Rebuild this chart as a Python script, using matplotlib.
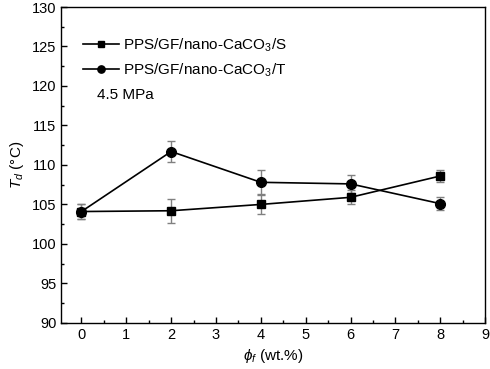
import numpy as np
import matplotlib
matplotlib.use('Agg')
from matplotlib import pyplot as plt
from matplotlib.ticker import MultipleLocator

plt.rcParams['font.family'] = ['Liberation Sans', 'DejaVu Sans']
plt.rcParams['mathtext.fontset'] = 'custom'
plt.rcParams['mathtext.it'] = 'Liberation Sans:italic'
plt.rcParams['mathtext.rm'] = 'Liberation Sans'

phi = [0, 2, 4, 6, 8]
td_s = [104.1, 104.2, 105.0, 105.9, 108.6]
err_s = [1.0, 1.5, 1.2, 0.9, 0.8]
td_t = [104.1, 111.7, 107.8, 107.6, 105.1]
err_t = [1.0, 1.3, 1.5, 1.1, 0.85]

fig, ax = plt.subplots(figsize=(4.9, 3.69), dpi=100)
fig.subplots_adjust(left=0.125, right=0.99, top=0.981, bottom=0.125)

ax.errorbar(phi, td_s, yerr=err_s, fmt='none', ecolor='#808080', elinewidth=1, capsize=3, capthick=1)
ax.errorbar(phi, td_t, yerr=err_t, fmt='none', ecolor='#808080', elinewidth=1, capsize=3, capthick=1)
ax.plot(phi, td_s, color='black', marker='s', markersize=6, linewidth=1.2,
        label='PPS/GF/nano-CaCO$_3$/S')
ax.plot(phi, td_t, color='black', marker='o', markersize=7, linewidth=1.2,
        label='PPS/GF/nano-CaCO$_3$/T')

ax.set_xlim(-0.45, 9)
ax.set_ylim(90, 130)
ax.xaxis.set_major_locator(MultipleLocator(1))
ax.xaxis.set_minor_locator(MultipleLocator(0.5))
ax.yaxis.set_major_locator(MultipleLocator(5))
ax.yaxis.set_minor_locator(MultipleLocator(2.5))
ax.tick_params(which='both', direction='in', labelsize=10.5, width=1)
ax.tick_params(which='major', length=4)
ax.tick_params(which='minor', length=2)
for s in ax.spines.values():
    s.set_linewidth(1.0)

ax.set_xlabel(r'$\phi_f$ (wt.%)', fontsize=11)
ax.set_ylabel(r'$T_d$ (°C)', fontsize=11)

leg = ax.legend(loc='upper left', bbox_to_anchor=(0.02, 0.95), frameon=False, fontsize=11,
                handlelength=2.3, handletextpad=0.3, labelspacing=0.5, markerscale=0.75)
ax.text(0.085, 0.72, '4.5 MPa', transform=ax.transAxes, fontsize=11, va='center')

plt.savefig('out.png', dpi=100)
